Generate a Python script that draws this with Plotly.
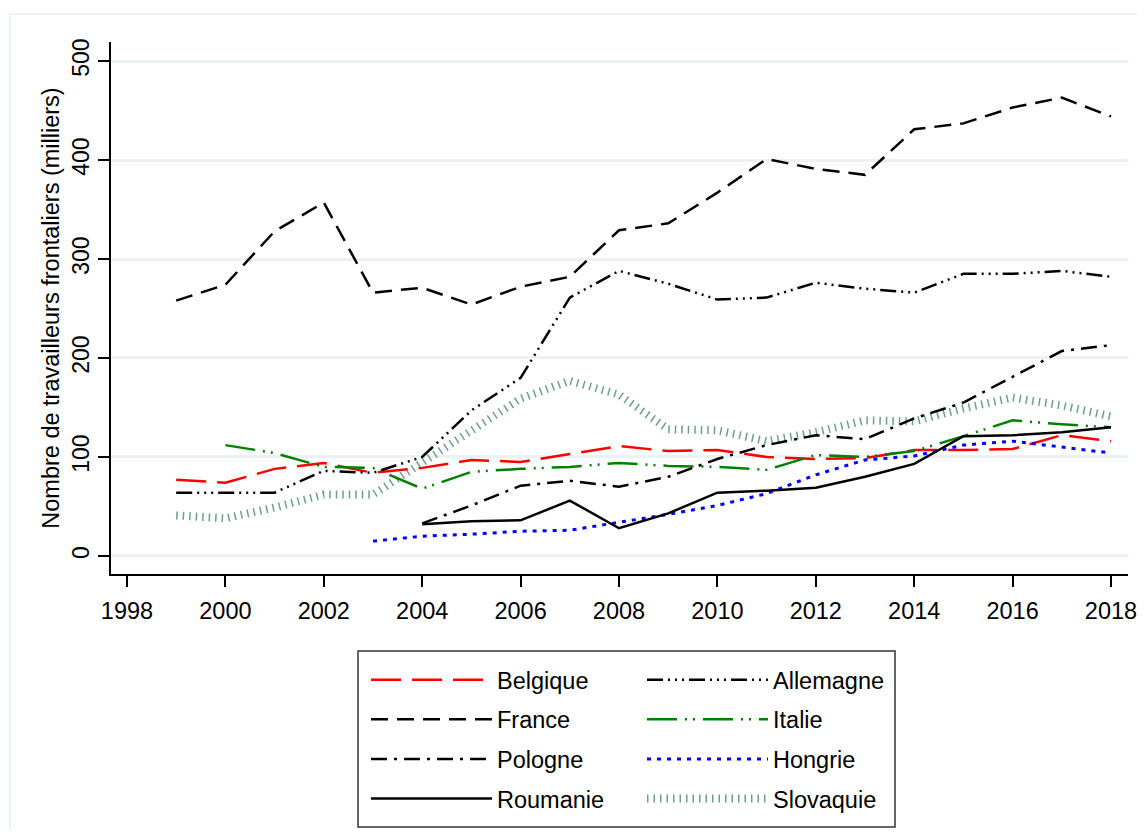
import plotly.graph_objects as go

years = list(range(1999, 2019))

belgique = [77, 74, 88, 94, 84, 89, 97, 95, 103, 111, 106, 107, 100, 98, 99, 107, 107, 108, 122, 116]
france = [258, 274, 328, 357, 266, 271, 254, 272, 282, 329, 336, 367, 401, 391, 385, 431, 437, 453, 463, 444]
allemagne = [64, 64, 64, 86, 84, 100, 147, 180, 261, 288, 275, 259, 261, 276, 270, 266, 285, 285, 288, 282]

years_it = list(range(2000, 2019))
italie = [112, 104, 90, 89, 68, 85, 88, 90, 94, 91, 90, 87, 102, 100, 106, 121, 137, 133, 130]

years_pl = list(range(2004, 2019))
pologne = [33, 51, 71, 76, 70, 80, 98, 112, 122, 118, 139, 155, 181, 207, 213]
roumanie = [32, 35, 36, 56, 28, 43, 64, 66, 69, 80, 93, 121, 122, 125, 130]

years_hu = list(range(2003, 2019))
hongrie = [15, 20, 22, 25, 26, 34, 42, 51, 63, 82, 97, 101, 112, 116, 110, 104]

slovaquie = [41, 38, 49, 62, 62, 94, 128, 159, 177, 163, 128, 127, 116, 125, 137, 136, 149, 160, 152, 141]

x_ticks = list(range(1998, 2019, 2))
y_ticks = [0, 100, 200, 300, 400, 500]

FONT = "Liberation Sans, Arial, sans-serif"

fig = go.Figure()

def add(name, x, y, color, dash, width, legend, rank):
    fig.add_trace(go.Scatter(
        x=x, y=y, mode="lines", name=name,
        line=dict(color=color, dash=dash, width=width),
        legend=legend, legendgroup=name, legendrank=rank,
    ))

# draw order: slovaquie beneath
add("Slovaquie", years, slovaquie, "#6E9E90", "1.5px,5px", 8, "legend2", 4)
add("Belgique", years, belgique, "#FF0000", "30px,11px", 2.5, "legend", 1)
add("Allemagne", years, allemagne, "#000000", "16px,5px,2px,5px,2px,5px,2px,5px", 2.5, "legend2", 1)
add("France", years, france, "#000000", "17px,9px", 2.5, "legend", 2)
add("Italie", years_it, italie, "#008000", "30px,8px,2px,6px,2px,8px", 2.5, "legend2", 2)
add("Pologne", years_pl, pologne, "#000000", "16px,7px,3px,7px", 2.5, "legend", 3)
add("Hongrie", years_hu, hongrie, "#0000FF", "4px,6px", 3, "legend2", 3)
add("Roumanie", years_pl, roumanie, "#000000", "solid", 2.5, "legend", 4)

# page has an 8px body margin: figure occupies page (8..1137, 8..830)
OFF = 8
W, H = 1145 - 2 * OFF, 838 - 2 * OFF
L, R, T, B = 111, 1128, 42, 574   # plot area in page coordinates
pw, ph = R - L, B - T

def px(xp):
    return (xp - L) / pw

def py(yp):
    return (B - yp) / ph

legend_common = dict(
    font=dict(family=FONT, size=23.5, color="#000000"),
    bgcolor="rgba(0,0,0,0)",
    borderwidth=0,
    orientation="v",
    itemwidth=121,
    tracegroupgap=6,
    xanchor="left",
    yanchor="top",
    traceorder="grouped",
    itemclick=False,
    itemdoubleclick=False,
)

fig.update_layout(
    width=W, height=H,
    margin=dict(l=L - OFF, r=(W + OFF) - R, t=T - OFF, b=(H + OFF) - B, autoexpand=False),
    paper_bgcolor="white",
    plot_bgcolor="white",
    font=dict(family=FONT, size=20, color="#000000"),
    showlegend=True,
    legend=dict(x=px(366), y=py(658), **legend_common),
    legend2=dict(x=px(642), y=py(658), **legend_common),
    xaxis=dict(
        range=[1998 - 16 / 49.2, 2018 + 17 / 49.2],
        tickmode="array", tickvals=x_ticks, ticktext=[str(v) for v in x_ticks],
        showgrid=False, zeroline=False, automargin=False,
        showline=True, linecolor="#000000", linewidth=2,
        ticks="outside", ticklen=11, tickwidth=1.5, tickcolor="#000000",
        ticklabelstandoff=4,
        ticklabeloverflow="allow",
        tickfont=dict(family=FONT, size=23.5, color="#000000"),
    ),
    yaxis=dict(
        range=[-18.2, 519.2],
        tickmode="array", tickvals=y_ticks, ticktext=[str(v) for v in y_ticks],
        showgrid=True, gridcolor="#EAF2F3", gridwidth=2.5,
        zeroline=False, automargin=False,
        showline=True, linecolor="#000000", linewidth=2,
        ticks="outside", ticklen=11, tickwidth=1.5, tickcolor="#000000",
        tickangle=-90,
        tickfont=dict(family=FONT, size=23, color="#000000"),
        title=dict(text="Nombre de travailleurs frontaliers (milliers)",
                   font=dict(family=FONT, size=23.5, color="#000000"),
                   standoff=2),
    ),
    shapes=[
        # outer graph region frame (top and left edges visible)
        dict(type="rect", xref="paper", yref="paper",
             x0=px(10), y0=py(900), x1=px(1200), y1=py(14),
             line=dict(color="#E8EEF0", width=1.5), fillcolor="rgba(0,0,0,0)", layer="below"),
        # legend box
        dict(type="rect", xref="paper", yref="paper",
             x0=px(358), y0=py(827), x1=px(895), y1=py(651),
             line=dict(color="#333333", width=1.5), fillcolor="rgba(0,0,0,0)"),
    ],
)

fig.write_html("out.html")
